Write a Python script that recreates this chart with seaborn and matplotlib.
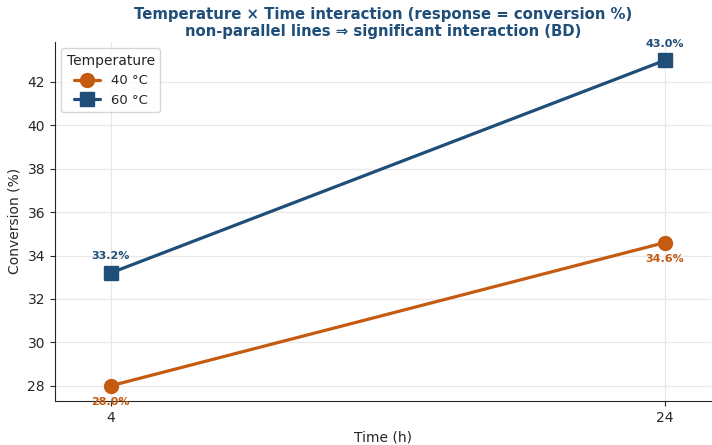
import pandas as pd
import matplotlib
matplotlib.use("Agg")
import matplotlib.pyplot as plt
import seaborn as sns

# === Data ===
times = [4, 24]
temps = ["40 °C", "60 °C"]
conv_40 = [28.0, 34.6]
conv_60 = [33.2, 43.0]

df = pd.DataFrame({
    "Time (h)": times + times,
    "Conversion (%)": conv_40 + conv_60,
    "Temperature": [temps[0]] * 2 + [temps[1]] * 2,
})

colors = {"40 °C": "#c55a11", "60 °C": "#1f4e79"}

sns.set_style("ticks")
plt.rcParams["font.family"] = ["DejaVu Sans"]

fig, ax = plt.subplots(figsize=(7.12, 4.45), dpi=100)
sns.lineplot(data=df, x="Time (h)", y="Conversion (%)", hue="Temperature",
             style="Temperature", markers=["o", "s"], dashes=False,
             palette=colors, linewidth=2.3, markersize=10, ax=ax)

# === Value labels ===
for t, v in zip(times, conv_40):
    ax.annotate(f"{v:.1f}%", (t, v), xytext=(0, -12), textcoords="offset points",
                ha="center", va="center", fontsize=8, fontweight="bold", color=colors["40 °C"])
for t, v in zip(times, conv_60):
    ax.annotate(f"{v:.1f}%", (t, v), xytext=(0, 12), textcoords="offset points",
                ha="center", va="center", fontsize=8, fontweight="bold", color=colors["60 °C"])

ax.set_xticks(times)
ax.set_xlim(1.98, 25.66)
ax.set_ylim(27.3, 43.85)
ax.grid(True, color="#e8e8e8", linewidth=0.9)
ax.set_axisbelow(True)
sns.despine(ax=ax)

ax.set_title("Temperature × Time interaction (response = conversion %)\n"
             "non-parallel lines ⇒ significant interaction (BD)",
             fontsize=10.7, fontweight="bold", color="#1f4e79", pad=4)
leg = ax.legend(title="Temperature", loc="upper left", fontsize=9.5, title_fontsize=10)

# solid markers without white edges
for line in list(ax.lines) + list(leg.get_lines()):
    line.set_markeredgecolor(line.get_color())
    line.set_markeredgewidth(1)

plt.subplots_adjust(left=0.077, right=0.9986, top=0.906, bottom=0.099)
plt.savefig("out.png")
